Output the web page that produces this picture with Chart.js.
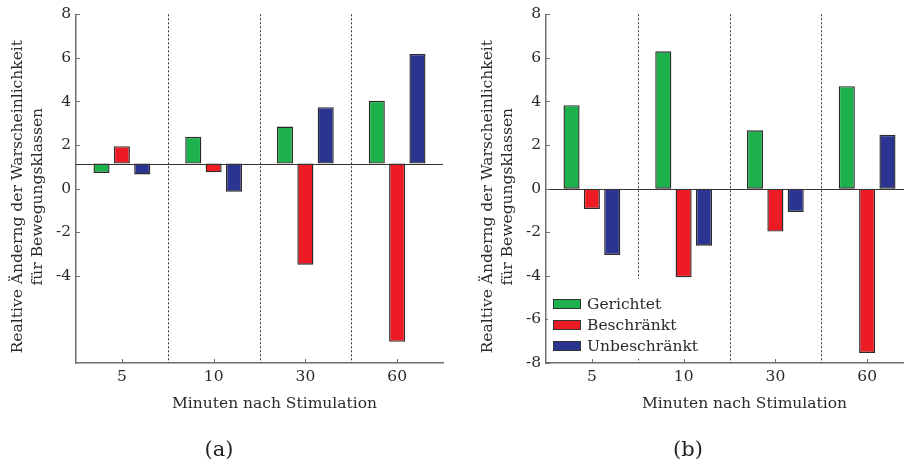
<!DOCTYPE html>
<html>
<head>
<meta charset="utf-8">
<script src="https://cdn.jsdelivr.net/npm/chart.js@4.4.1/dist/chart.umd.min.js"></script>
<style>
  html, body { margin: 0; padding: 0; background: #fff; overflow: hidden; width: 904px; height: 467px; }
  .panel { position: absolute; top: 0; }
  .cap { position: absolute; font-family: 'DejaVu Serif', serif; font-size: 21px; color: #222;
         transform: translate(-50%, -50%); white-space: nowrap; }
</style>
</head>
<body>
<div class="panel" style="left:0px"><canvas id="chartA" width="450" height="467"></canvas></div>
<div class="panel" style="left:450px"><canvas id="chartB" width="470" height="467"></canvas></div>
<div class="cap" style="left:219px; top:449px">(a)</div>
<div class="cap" style="left:688px; top:449px">(b)</div>
<script>
// Minutes after stimulation
const categories = ['5', '10', '30', '60'];
const seriesNames = ['Gerichtet', 'Beschränkt', 'Unbeschränkt'];
const seriesColors = ['#1cb14b', '#ed1c24', '#2b3591'];

// Panel (a): bars grow from a shifted reference level
const baselineA = 1.15;
const gerichtetA = [0.72, 2.38, 2.85, 4.03];
const beschraenktA = [1.95, 0.75, -3.49, -7.03];
const unbeschraenktA = [0.65, -0.14, 3.74, 6.18];

// Panel (b): bars grow from zero
const baselineB = 0;
const gerichtetB = [3.83, 6.30, 2.68, 4.70];
const beschraenktB = [-0.93, -4.06, -1.97, -7.54];
const unbeschraenktB = [-3.04, -2.62, -1.07, 2.47];

const yTicksA = [8, 6, 4, 2, 0, -2, -4];
const yTicksB = [8, 6, 4, 2, 0, -2, -4, -6, -8];
const yTitle = ['Realtive Änderng der Warscheinlichkeit', 'für Bewegungsklassen'];
const xTitle = 'Minuten nach Stimulation';

const FONT = 'DejaVu Serif';
const FONT_SIZE = 15.5;
const TEXT = '#2a2a2a';
const AXIS = '#6f6f6f';

// Dotted group separators, reference line, inward tick marks, axis titles and the boxed legend
const panelDecor = {
  id: 'panelDecor',
  beforeDatasetsDraw(chart) {
    const { ctx, chartArea: a, scales: { x } } = chart;
    ctx.save();
    ctx.strokeStyle = '#3a3a3a';
    ctx.lineWidth = 1;
    ctx.setLineDash([2, 2]);
    for (let i = 0; i < x.ticks.length - 1; i++) {
      const px = Math.round((x.getPixelForTick(i) + x.getPixelForTick(i + 1)) / 2) + 0.5;
      ctx.beginPath();
      ctx.moveTo(px, a.top);
      ctx.lineTo(px, a.bottom);
      ctx.stroke();
    }
    ctx.restore();
  },
  afterDatasetsDraw(chart, args, opts) {
    const { ctx, chartArea: a, scales: { x, y } } = chart;
    ctx.save();
    // reference level
    const yb = Math.round(y.getPixelForValue(opts.baseline)) + 0.5;
    ctx.strokeStyle = '#333';
    ctx.lineWidth = 1;
    ctx.beginPath();
    ctx.moveTo(a.left, yb);
    ctx.lineTo(a.right, yb);
    ctx.stroke();
    // inward tick marks
    ctx.strokeStyle = AXIS;
    y.ticks.forEach((t, i) => {
      const py = Math.round(y.getPixelForTick(i)) + 0.5;
      ctx.beginPath();
      ctx.moveTo(a.left, py);
      ctx.lineTo(a.left + 4, py);
      ctx.stroke();
    });
    x.ticks.forEach((t, i) => {
      const px = Math.round(x.getPixelForTick(i)) + 0.5;
      ctx.beginPath();
      ctx.moveTo(px, a.bottom);
      ctx.lineTo(px, a.bottom - 4);
      ctx.stroke();
    });
    // axis titles
    ctx.font = FONT_SIZE + 'px "' + FONT + '"';
    ctx.fillStyle = TEXT;
    ctx.textAlign = 'center';
    ctx.textBaseline = 'middle';
    ctx.fillText(xTitle, (a.left + a.right) / 2 + 15, a.bottom + 41);
    ctx.save();
    ctx.translate(a.left - 58.5, (a.top + a.bottom) / 2 + 8);
    ctx.rotate(-Math.PI / 2);
    yTitle.forEach((line, i) => ctx.fillText(line, 0, i * 20.5));
    ctx.restore();
    // legend
    if (opts.legend) {
      const names = chart.data.datasets.map(d => d.label);
      const maxW = Math.max(...names.map(n => ctx.measureText(n).width));
      const rowH = 21, boxW = 28, boxH = 9;
      const x0 = a.left + 7;
      const y0 = a.bottom - 59;
      ctx.fillStyle = '#fff';
      ctx.fillRect(a.left + 2, y0 - 25, boxW + 10 + maxW + 6, 2 * rowH + 38);
      ctx.textAlign = 'left';
      chart.data.datasets.forEach((d, i) => {
        const cy = Math.round(y0 + i * rowH);
        ctx.fillStyle = '#333';
        ctx.fillRect(x0, cy - 5, boxW, boxH + 1);
        ctx.fillStyle = d.backgroundColor;
        ctx.fillRect(x0 + 1, cy - 4, boxW - 2, boxH - 1);
        ctx.fillStyle = TEXT;
        ctx.fillText(d.label, x0 + boxW + 6, cy + 1);
      });
    }
    ctx.restore();
  }
};

function makeChart(id, values, baseline, yTicks, leftWidth, rightPad, legend) {
  return new Chart(document.getElementById(id), {
    type: 'bar',
    data: {
      labels: categories,
      datasets: values.map((v, i) => ({
        label: seriesNames[i],
        data: v,
        base: baseline,
        backgroundColor: seriesColors[i],
        borderColor: '#2a2a2a',
        borderWidth: 1.4,
        borderSkipped: false,
        categoryPercentage: 0.665,
        barPercentage: 0.79
      }))
    },
    options: {
      responsive: false,
      animation: false,
      layout: { padding: { left: 0, right: rightPad, top: 14, bottom: 44 } },
      plugins: {
        legend: { display: false },
        tooltip: { enabled: false },
        panelDecor: { baseline: baseline, legend: legend }
      },
      scales: {
        x: {
          type: 'category',
          offset: true,
          grid: { display: false, drawTicks: false },
          border: { display: true, color: AXIS, width: 1.5 },
          ticks: { color: TEXT, font: { family: FONT, size: FONT_SIZE }, padding: 5, maxRotation: 0 },
          afterFit(scale) { scale.height = 60; }
        },
        y: {
          min: -8,
          max: 8,
          grid: { display: false, drawTicks: false },
          border: { display: true, color: AXIS, width: 1.5 },
          afterBuildTicks(scale) { scale.ticks = yTicks.map(v => ({ value: v })); },
          ticks: { color: TEXT, font: { family: FONT, size: FONT_SIZE }, padding: 5 },
          afterFit(scale) { scale.width = leftWidth; }
        }
      }
    },
    plugins: [panelDecor]
  });
}

makeChart('chartA', [gerichtetA, beschraenktA, unbeschraenktA], baselineA, yTicksA, 76, 7, false);
makeChart('chartB', [gerichtetB, beschraenktB, unbeschraenktB], baselineB, yTicksB, 96, 7, true);
</script>
</body>
</html>
